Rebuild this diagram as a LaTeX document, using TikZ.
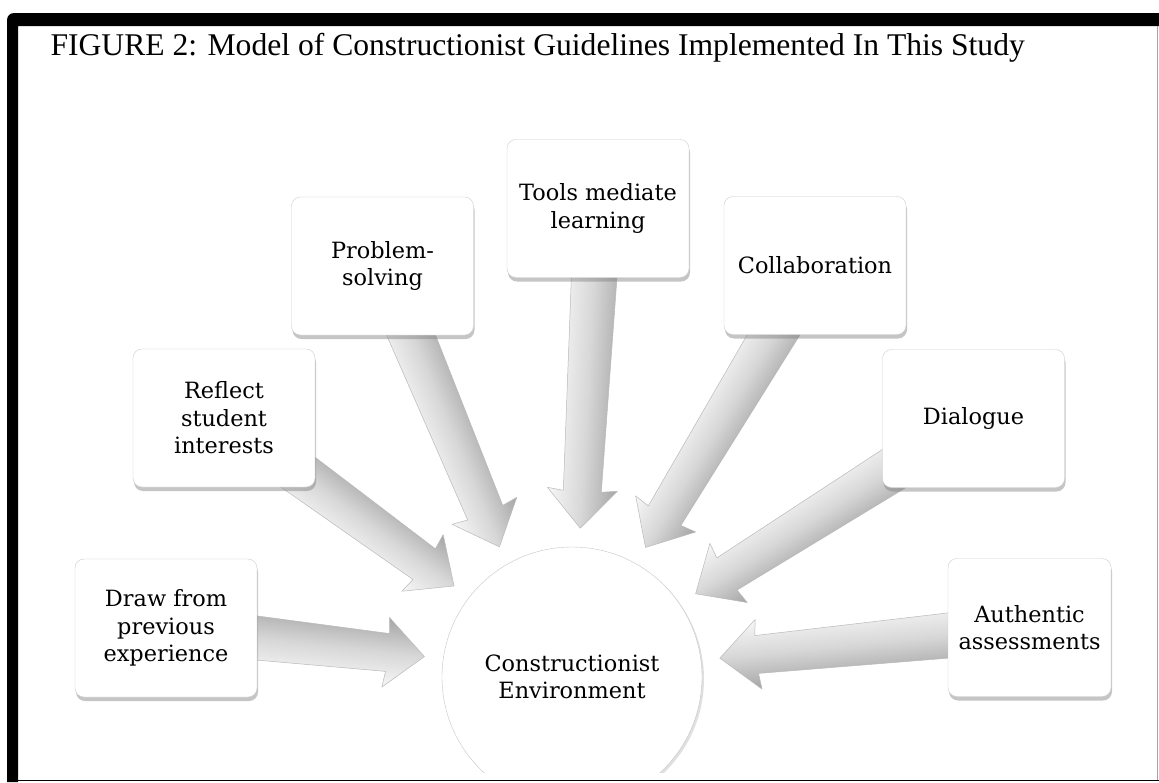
\documentclass[tikz,border=0pt]{standalone}
\usepackage{fontspec}
\setmainfont{Liberation Serif}
\newfontfamily\guidefont{DejaVu Serif}
\definecolor{boxline}{RGB}{205, 205, 205}
\definecolor{arrowdark}{RGB}{165, 165, 165}
\definecolor{arrowmid}{RGB}{215, 215, 215}
\definecolor{arrowlight}{RGB}{247, 247, 247}
\usetikzlibrary{calc, shadows}
\pgfdeclarelayer{background}
\pgfsetlayers{background,main}

% block arrow from a guideline box towards the hub (#1 = turn of the tip, #2 = box)
\newcommand{\guidearrow}[2][0]{%
  \path let \p1=(#2.center), \p2=($(env.center)!149pt!#1:(#2.center)$) in
    \pgfextra{%
      \pgfmathsetmacro\arrang{atan2(\y2-\y1,\x2-\x1)}%
      \pgfmathsetmacro\arrlen{veclen(\x2-\x1,\y2-\y1)}%
      \xdef\arrang{\arrang}\xdef\arrlen{\arrlen}%
      \xdef\arrx{\x1}\xdef\arry{\y1}};
  \begin{scope}[transform canvas={shift={(\arrx,\arry)}, rotate=\arrang}]
    \path[arrowbody] (0pt,24pt) -- (\arrlen pt-37pt,19pt) -- (\arrlen pt-39pt,35pt)
      -- (\arrlen pt,0pt) -- (\arrlen pt-39pt,-35pt) -- (\arrlen pt-37pt,-19pt)
      -- (0pt,-24pt) -- cycle;
  \end{scope}
}

\begin{document}
\begin{tikzpicture}[x=1pt, y=1pt,
  guide/.style={draw=boxline, fill=white, rounded corners=9pt, minimum width=182pt,
    minimum height=138pt, inner sep=2pt, align=center,
    font=\guidefont\fontsize{22.4}{27.5}\selectfont,
    drop shadow={shadow xshift=1pt, shadow yshift=-4pt, fill=black!50, opacity=0.45}},
  hub/.style={circle, draw=gray!45, fill=white, minimum size=260pt, inner sep=0pt,
    align=center, font=\guidefont\fontsize{22.4}{27.5}\selectfont,
    drop shadow={shadow xshift=2pt, shadow yshift=-2pt, fill=black!40, opacity=0.3}},
  arrowbody/.style={top color=arrowdark, bottom color=arrowlight, middle color=arrowmid,
    draw=gray!55, line width=0.5pt, line join=round}]
  \useasboundingbox (0,0) rectangle (1159,-782);

  \node[anchor=base west, font=\fontsize{31.6}{38}\selectfont] (title) at (47,-55)
    {FIGURE 2: Model of Constructionist Guidelines Implemented In This Study};

  \begin{scope}
    \clip (18,-26) rectangle (1157,-772);
    % hub
    \node[hub] (env) at (572,-677) {Constructionist\\Environment};
    % guidelines
    \node[guide] (experience) at (166,-628) {Draw from\\previous\\experience};
    \node[guide] (interests) at (224,-418) {Reflect\\student\\interests};
    \node[guide] (problem) at (382.5,-266) {Problem-\\solving};
    \node[guide] (tools) at (598,-208.5) {Tools mediate\\learning};
    \node[guide] (collab) at (815,-265.5) {Collaboration};
    \node[guide] (dialogue) at (973.5,-418.5) {Dialogue};
    \node[guide, minimum width=163pt] (authentic) at (1029.5,-627.5) {Authentic\\assessments};
  \end{scope}

  % arrows behind the boxes
  \begin{pgfonlayer}{background}
    \fill[white] (0,0) rectangle (1159,-782);
    \foreach \g/\t in {experience/-1, interests/-1, problem/4.4, tools/0,
                       collab/1, dialogue/1.2, authentic/1.1}
      {\guidearrow[\t]{\g}}
  \end{pgfonlayer}

  % frame
  \fill[black] (7,-782) -- (7,-20) arc[start angle=180, end angle=90, radius=7]
    -- (1159,-13) -- (1159,-26) -- (18,-26) -- (18,-782) -- cycle;
  \draw[gray!70, line width=1pt] (1157,-26) -- (1157,-780);
  \draw[black, line width=1.6pt] (18,-780.5) -- (1159,-780.5);
\end{tikzpicture}
\end{document}
